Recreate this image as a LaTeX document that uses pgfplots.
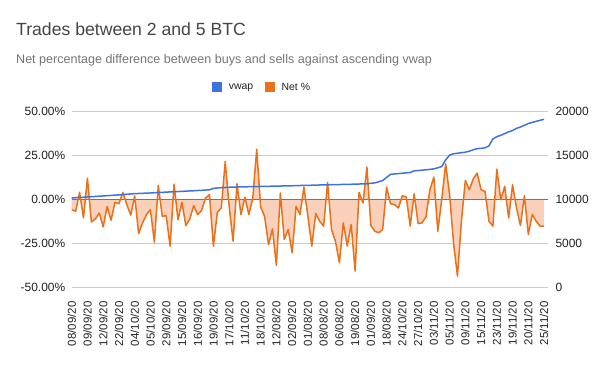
\documentclass[border=0pt]{standalone}
\usepackage{pgfplots}
\pgfplotsset{compat=1.18}
\usepackage{pgfplotstable}
\usepgfplotslibrary{fillbetween}
\usepackage{fontspec}
\setmainfont{Liberation Sans}
\definecolor{netor}{HTML}{E8711A}
\definecolor{netfill}{HTML}{F9D0BA}
\definecolor{vwapblue}{HTML}{3F72DC}
\definecolor{gridc}{HTML}{CCCCCC}
\definecolor{zeroc}{HTML}{757575}
\definecolor{titlec}{HTML}{444444}
\definecolor{subc}{HTML}{757575}
\definecolor{labc}{HTML}{222222}
\pgfplotstableread{
i net vwap
0 -5.9 10150
1 -6.8 10180
2 4.0 10210
3 -10.6 10240
4 12.1 10270
5 -12.9 10300
6 -11.2 10330
7 -7.8 10360
8 -15.7 10390
9 -4.0 10420
10 -11.9 10450
11 -1.7 10480
12 -2.5 10510
13 4.0 10540
14 -3.0 10580
15 -9.0 10620
16 2.0 10650
17 -19.5 10670
18 -13.4 10690
19 -8.7 10710
20 -5.9 10730
21 -24.4 10760
22 8.0 10780
23 -9.7 10800
24 -9.3 10820
25 -26.7 10850
26 8.7 10870
27 -11.6 10890
28 -1.7 10910
29 -15.0 10940
30 -11.2 10960
31 -3.6 10980
32 -8.7 11010
33 -6.3 11030
34 0.8 11060
35 2.7 11090
36 -26.7 11250
37 -7.4 11300
38 -4.9 11330
39 21.6 11350
40 -4.0 11380
41 -23.9 11400
42 8.9 11410
43 -8.7 11420
44 1.3 11430
45 -8.7 11440
46 0.8 11450
47 28.6 11460
48 -4.4 11470
49 -9.7 11480
50 -25.8 11490
51 -16.9 11500
52 -37.7 11510
53 3.6 11520
54 -22.9 11530
55 -17.2 11540
56 -30.5 11550
57 -4.0 11560
58 -8.7 11580
59 7.0 11590
60 -9.7 11600
61 -26.7 11610
62 -8.1 11620
63 -12.5 11640
64 -15.3 11650
65 9.7 11660
66 -17.2 11670
67 -23.9 11680
68 -36.2 11690
69 -13.4 11700
70 -26.7 11710
71 -14.4 11720
72 -40.9 11740
73 4.0 11750
74 -2.1 11760
75 18.4 11780
76 -15.0 11830
77 -18.2 11880
78 -19.1 12000
79 -17.2 12150
80 7.0 12500
81 -2.5 12850
82 -3.0 12900
83 -4.9 12940
84 2.1 12980
85 1.3 13020
86 -15.3 13070
87 3.2 13250
88 -13.8 13290
89 -13.4 13330
90 -10.0 13370
91 5.5 13420
92 12.7 13480
93 -18.2 13600
94 -0.2 13750
95 20.3 14500
96 2.7 15050
97 -24.8 15200
98 -43.8 15260
99 -12.5 15320
100 10.8 15380
101 5.5 15500
102 11.6 15650
103 15.0 15780
104 5.5 15820
105 4.5 15870
106 -12.5 16100
107 -15.3 16900
108 17.2 17150
109 -0.2 17300
110 7.4 17500
111 -10.6 17700
112 8.3 17850
113 -4.9 18100
114 -15.0 18250
115 2.1 18450
116 -20.0 18650
117 -8.7 18780
118 -12.5 18900
119 -15.3 19020
120 -15.3 19130
}\data
\pgfplotsset{
  common/.style={
    at={(71.7bp,80bp)}, anchor=south west,
    width=476.3bp, height=175.3bp, scale only axis,
    xmin=0, xmax=121,
    axis line style={draw=none},
    major tick length=0pt,
    tick label style={font=\fontsize{12}{14}\selectfont, text=labc},
    /pgf/number format/assume math mode=true,
    scaled y ticks=false,
  }
}
\begin{document}
\begin{tikzpicture}
\path (0bp,0bp) rectangle (600bp,367bp);
\node[anchor=base west, inner sep=0pt, text=titlec, font=\fontsize{17.7}{20}\selectfont] at (16bp,331bp) {Trades between 2 and 5 BTC};
\node[anchor=base west, inner sep=0pt, text=subc, font=\fontsize{12.6}{15}\selectfont] at (16bp,303bp) {Net percentage difference between buys and sells against ascending vwap};
\begin{axis}[common,
  ymin=-50, ymax=50,
  ytick={-50,-25,0,25,50},
  yticklabels={-50.00\%,-25.00\%,0.00\%,25.00\%,50.00\%},
  ymajorgrids, grid style={gridc, line width=0.8bp},
  xtick={0,4,...,120},
  xticklabels={08/09/20,09/09/20,12/09/20,22/09/20,04/10/20,05/10/20,29/09/20,15/09/20,16/09/20,19/09/20,17/10/20,11/10/20,18/10/20,12/08/20,02/09/20,01/08/20,08/08/20,06/08/20,19/08/20,01/09/20,18/08/20,24/10/20,27/10/20,03/11/20,05/11/20,09/11/20,15/11/20,23/11/20,19/11/20,20/11/20,25/11/20},
  xticklabel style={yshift=-11bp, rotate=90, anchor=east, font=\fontsize{11.5}{13}\selectfont},
  yticklabel style={xshift=-3bp},
]
\addplot[name path=net, draw=none, forget plot] table[x=i, y=net] {\data};
\addplot[name path=zero, draw=none, forget plot] coordinates {(0,0) (120,0)};
\addplot[netfill, forget plot] fill between[of=net and zero];
\addplot[zeroc, line width=1.5bp, forget plot] coordinates {(0,0) (121,0)};
\addplot[netor, line width=1.5bp, line join=round, forget plot] table[x=i, y=net] {\data};
\end{axis}
\begin{axis}[common,
  ymin=0, ymax=20000,
  ytick={0,5000,10000,15000,20000},
  yticklabels={0,5000,10000,15000,20000},
  axis y line*=right,
  hide x axis,
  yticklabel style={anchor=west, xshift=4bp},
  legend style={at={(0.4,1.14)}, anchor=center, draw=none, fill=none,
    font=\fontsize{10.5}{12}\selectfont, text=labc,
    /tikz/every even column/.append style={column sep=10bp}},
  legend columns=2,
  legend image code/.code={\fill[#1] (0bp,-4.5bp) rectangle (9bp,4.5bp); \path (14bp,0bp);},
]
\addplot[vwapblue, line width=1.5bp, line join=round, forget plot] table[x=i, y=vwap] {\data};
\addlegendimage{vwapblue}
\addlegendentry{vwap}
\addlegendimage{netor}
\addlegendentry{Net \%}
\end{axis}
\end{tikzpicture}
\end{document}
